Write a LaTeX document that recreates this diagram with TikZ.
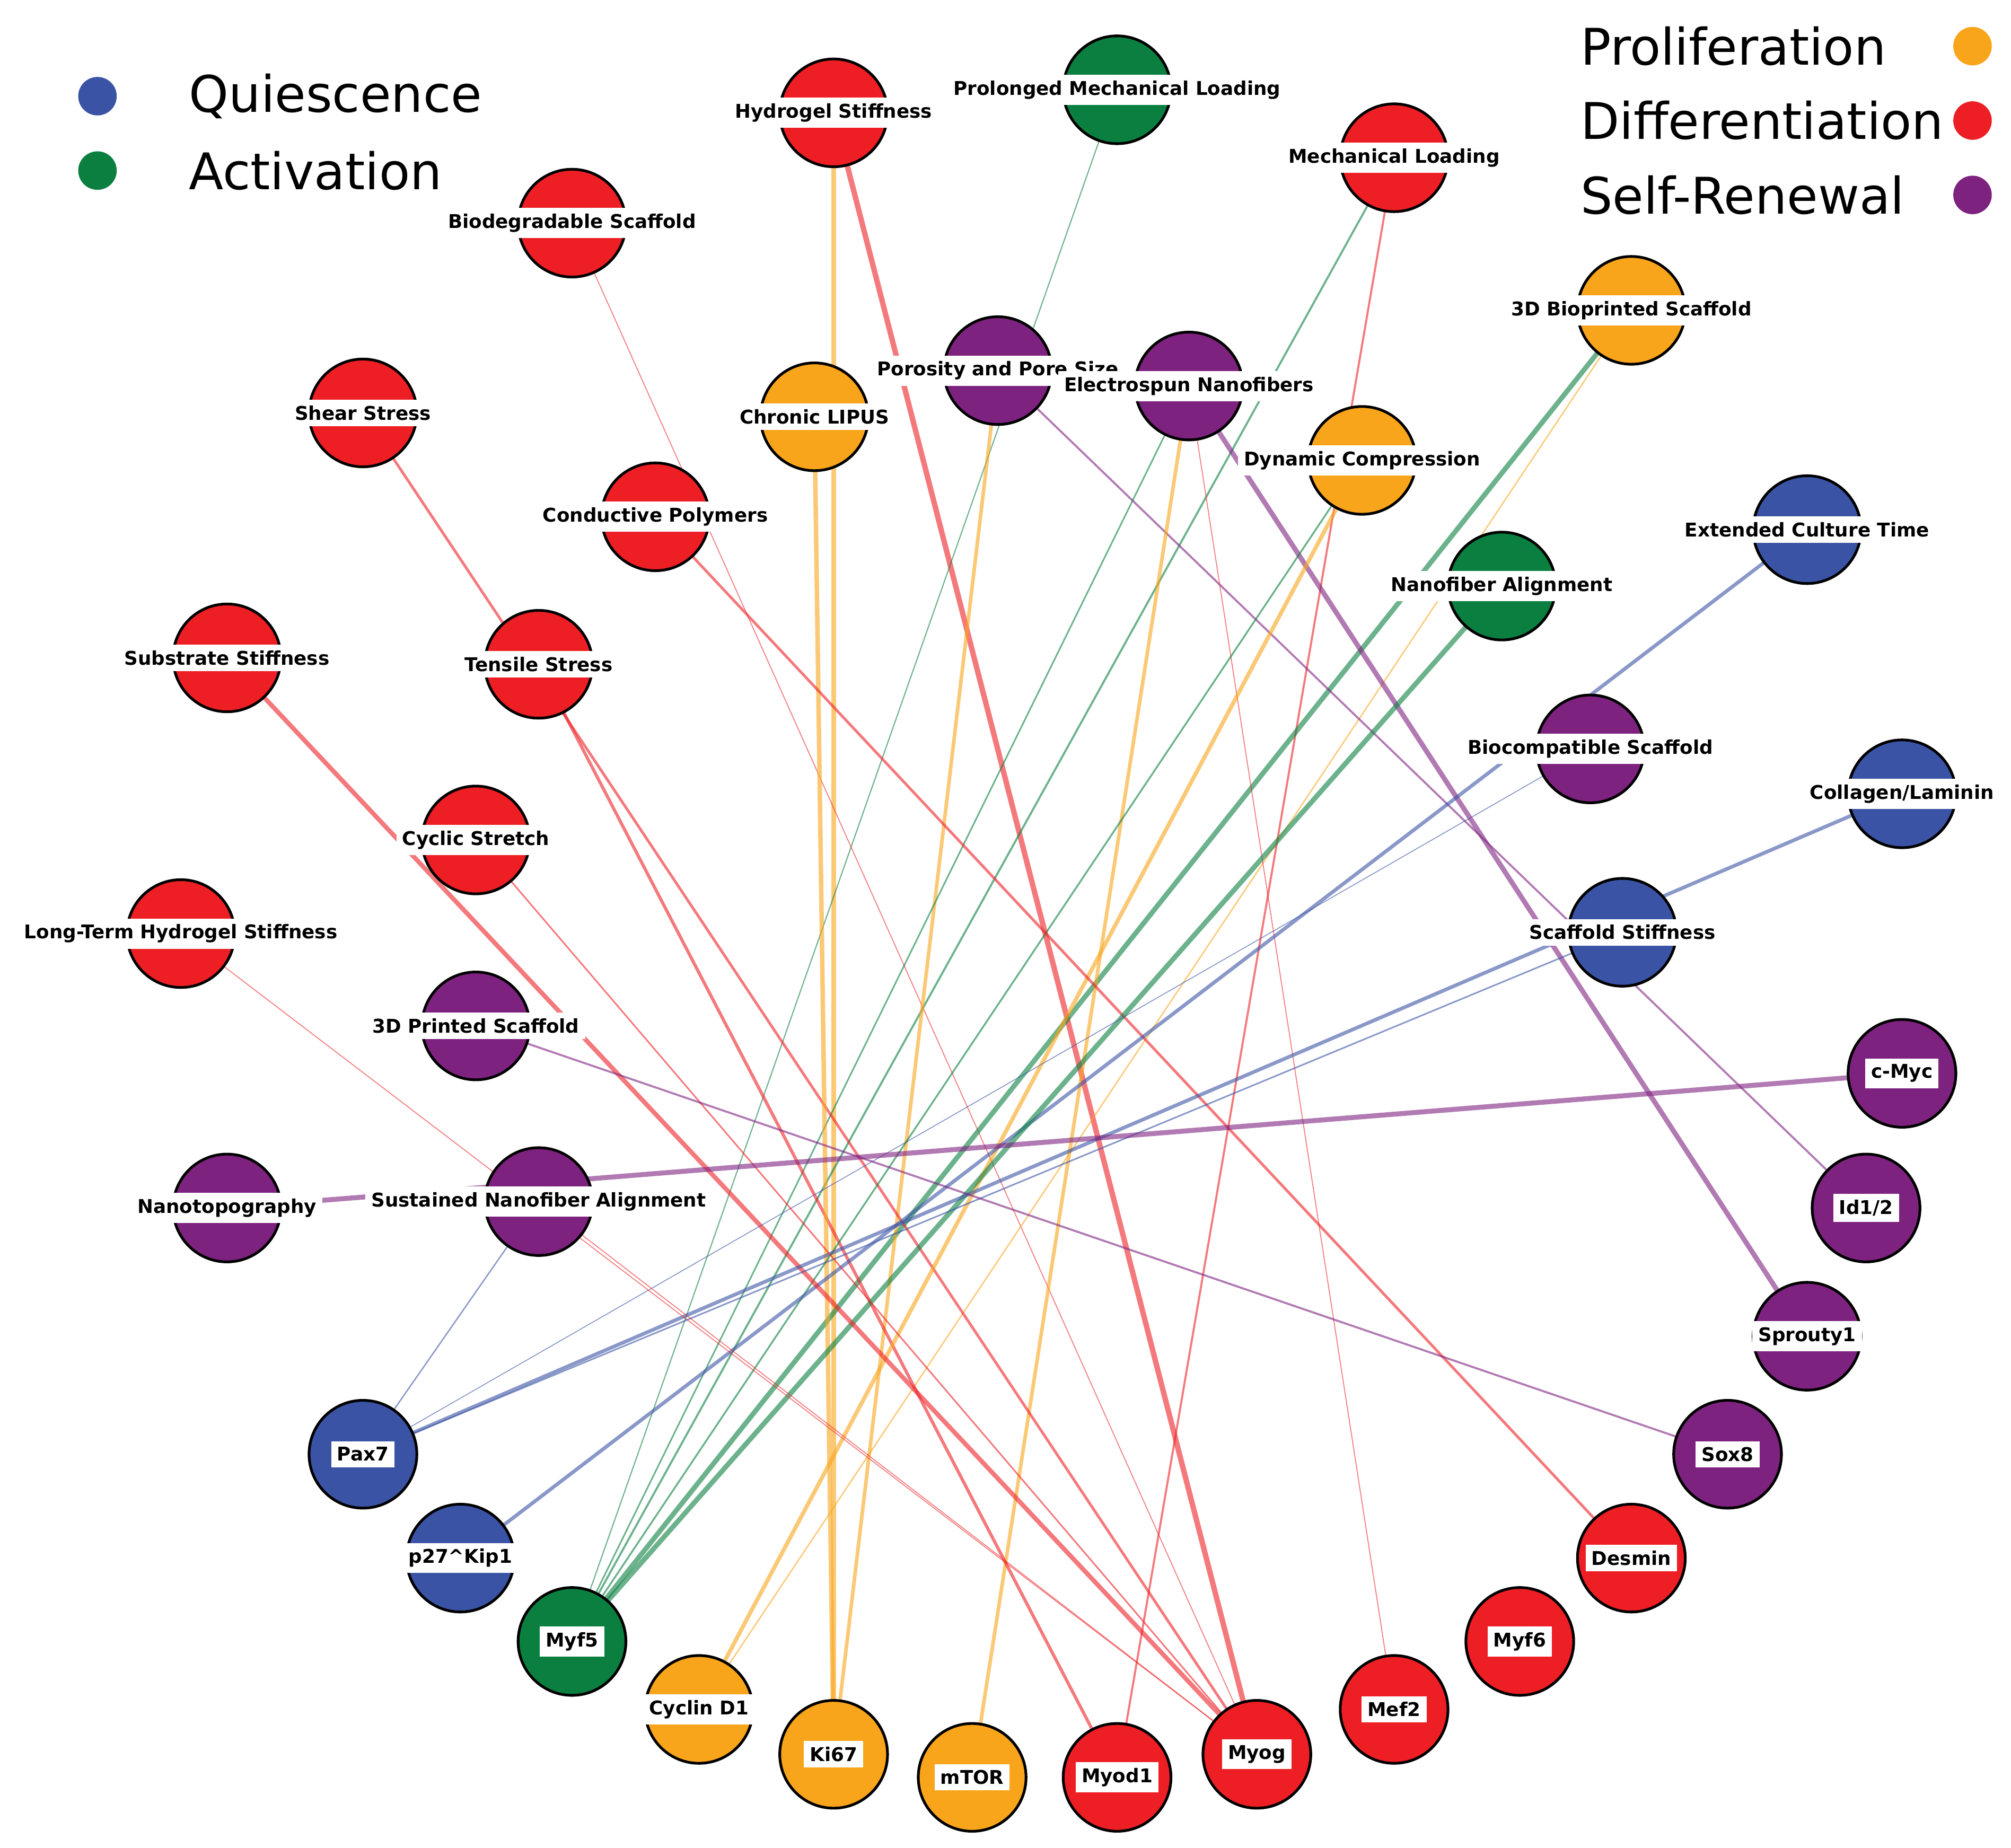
\documentclass[tikz,border=0pt]{standalone}
\usepackage{fontspec}
\setmainfont{DejaVu Sans}
\definecolor{qblue}{HTML}{3A53A4}
\definecolor{agreen}{HTML}{0A7F40}
\definecolor{porange}{HTML}{F9A51B}
\definecolor{dred}{HTML}{ED1F24}
\definecolor{spurple}{HTML}{7E2280}
\begin{document}
\begin{tikzpicture}[x=0.01cm,y=-0.01cm]

\tikzset{
  Vertex/.style = {circle, draw=black, line width=0.6pt, minimum size=0.84cm, inner sep=0pt},
  Lbl/.style = {fill=white, inner sep=1.3pt, font=\fontsize{4.2}{5}\selectfont\bfseries},
  Leg/.style = {font=\fontsize{11.2}{13}\selectfont, anchor=west},
  Dot/.style = {circle, minimum size=0.3cm, inner sep=0pt},
  EdgeStyle/.style = {opacity=0.6, line cap=round}}
\useasboundingbox (0,0) rectangle (1568,1441);

% vertices: name/x/y
\foreach \n/\x/\y in {
  hyd/650/88, pml/871/70, mld/1087/123, bio/446/174,
  bpr/1272/242, por/778/289, ele/927/301,
  she/283/322, lip/635/325, dyn/1062/359,
  con/511/403, ext/1409/413, nfa/1171/457,
  sub/177/513, ten/420/518, bcs/1240/584,
  col/1483/619, cyc/371/655, lth/141/728,
  scs/1265/727, dps/371/800, myc/1483/837,
  nan/177/942, sna/420/937, idb/1455/942,
  spr/1409/1042, pax/283/1134, sox/1347/1134,
  p27/359/1215, des/1272/1215, my5/446/1280,
  my6/1185/1280, ccd/545/1333, mef/1087/1333,
  ki6/650/1368, myg/980/1368, mto/758/1386,
  myd/871/1386}
  \coordinate (\n) at (\x,\y);

% edges: source/target/colour/width
\foreach \a/\b/\c/\w in {
  hyd/ki6/porange/1.0, hyd/myg/dred/1.2, pml/my5/agreen/0.25,
  mld/my5/agreen/0.45, mld/myd/dred/0.45, bio/myg/dred/0.2,
  bpr/my5/agreen/1.1, bpr/ccd/porange/0.3, por/ki6/porange/0.8,
  por/idb/spurple/0.45, ele/my5/agreen/0.35, ele/mto/porange/0.8,
  ele/spr/spurple/1.1, ele/mef/dred/0.2, she/myg/dred/0.6,
  ten/myd/dred/0.7, lip/ki6/porange/1.0, dyn/my5/agreen/0.4,
  dyn/ccd/porange/0.9, con/des/dred/0.6, ext/p27/qblue/0.8,
  nfa/my5/agreen/1.1, sub/myg/dred/1.0, bcs/pax/qblue/0.2,
  col/pax/qblue/0.8, cyc/myg/dred/0.35, lth/myg/dred/0.2,
  scs/pax/qblue/0.35, dps/sox/spurple/0.45,
  nan/myc/spurple/1.1, sna/pax/qblue/0.3, sna/myg/dred/0.2}
  \draw[EdgeStyle, draw=\c, line width=\w pt] (\a) -- (\b);

% circles
\foreach \n/\c in {
  hyd/dred, pml/agreen, mld/dred, bio/dred, bpr/porange, por/spurple,
  ele/spurple, she/dred, lip/porange, dyn/porange, con/dred, ext/qblue,
  nfa/agreen, sub/dred, ten/dred, bcs/spurple, col/qblue, cyc/dred,
  lth/dred, scs/qblue, dps/spurple, myc/spurple, nan/spurple, sna/spurple,
  idb/spurple, spr/spurple, pax/qblue, sox/spurple, p27/qblue, des/dred,
  my5/agreen, my6/dred, ccd/porange, mef/dred, ki6/porange, myg/dred,
  mto/porange, myd/dred}
  \node[Vertex, fill=\c] (v-\n) at (\n) {};

% labels
\foreach \n/\t in {
  hyd/Hydrogel Stiffness, pml/Prolonged Mechanical Loading,
  mld/Mechanical Loading, bio/Biodegradable Scaffold,
  bpr/3D Bioprinted Scaffold, por/Porosity and Pore Size,
  ele/Electrospun Nanofibers, she/Shear Stress, lip/Chronic LIPUS,
  dyn/Dynamic Compression, con/Conductive Polymers,
  ext/Extended Culture Time, nfa/Nanofiber Alignment,
  sub/Substrate Stiffness, ten/Tensile Stress,
  bcs/Biocompatible Scaffold, col/{Collagen/Laminin}, cyc/Cyclic Stretch,
  lth/Long-Term Hydrogel Stiffness, scs/Scaffold Stiffness,
  dps/3D Printed Scaffold, myc/c-Myc, nan/Nanotopography,
  sna/Sustained Nanofiber Alignment, idb/{Id1/2}, spr/Sprouty1,
  pax/Pax7, sox/Sox8, p27/p27\textasciicircum Kip1, des/Desmin,
  my5/Myf5, my6/Myf6, ccd/Cyclin D1, mef/Mef2, ki6/Ki67,
  myg/Myog, mto/mTOR, myd/Myod1}
  \node[Lbl] (l-\n) at (\n) {\t};

% legend
\node[Dot, fill=qblue] (dq) at (76,75) {};
\node[Leg] (tq) at (135,75) {Quiescence};
\node[Dot, fill=agreen] (da) at (76,133) {};
\node[Leg] (ta) at (135,133) {Activation};
\node[Dot, fill=porange] (dp) at (1538,36) {};
\node[Leg] (tp) at (1220,36) {Proliferation};
\node[Dot, fill=dred] (dd) at (1538,94) {};
\node[Leg] (td) at (1220,94) {Differentiation};
\node[Dot, fill=spurple] (ds) at (1538,152) {};
\node[Leg] (ts) at (1220,152) {Self-Renewal};

\end{tikzpicture}
\end{document}
